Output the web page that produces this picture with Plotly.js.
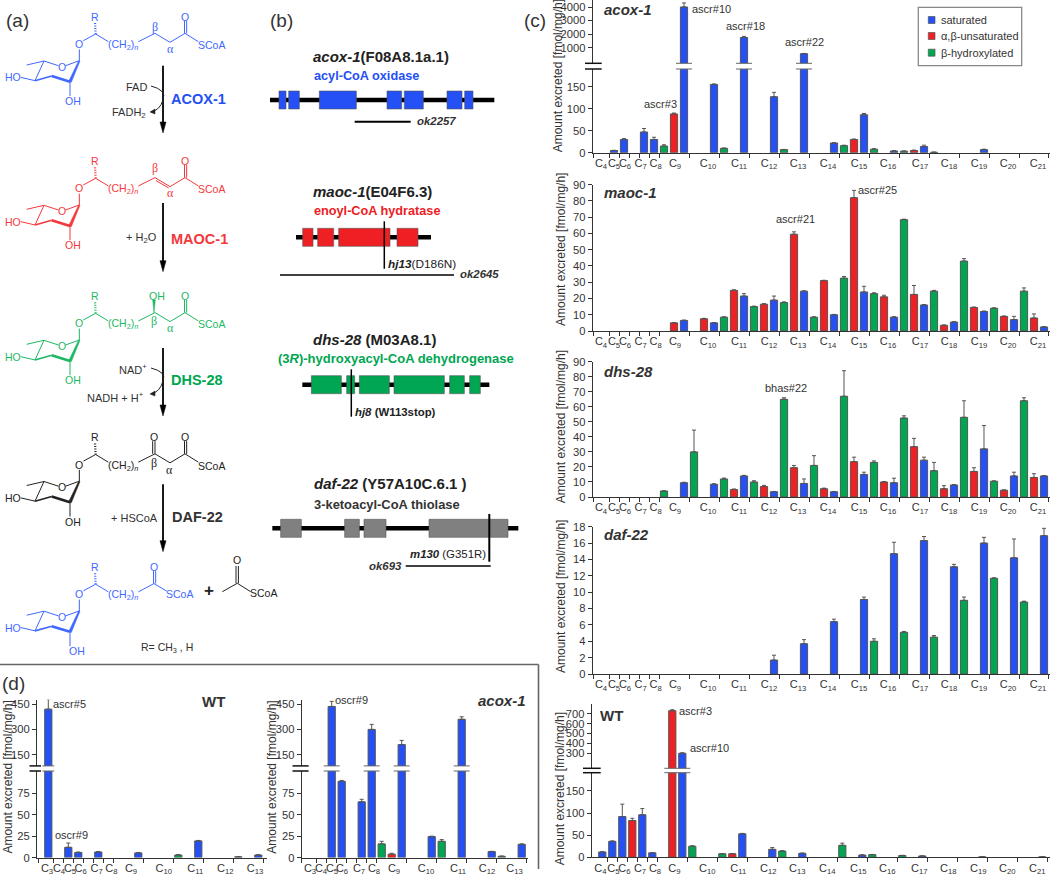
<!DOCTYPE html>
<html><head><meta charset="utf-8">
<script src="https://cdn.plot.ly/plotly-3.0.1.min.js"></script>
<style>html,body{margin:0;padding:0;background:#fff}#chart{width:1050px;height:874px}</style>
</head><body><div id="chart"></div>
<script>
// ---------- DATA. Slot = position along the carbon axis, kind: s saturated, u unsaturated, h hydroxylated
const carbonC = ['C4','C5','C6','C7','C8','C9','C10','C11','C12','C13','C14','C15','C16','C17','C18','C19','C20','C21'];
const carbonD = ['C3','C4','C5','C6','C7','C8','C9','C10','C11','C12','C13'];
const seriesNames = {s:'saturated', u:'α,β-unsaturated', h:'β-hydroxylated'};

const acoxSlots = [2,3,5,6,7,8,9,12,13,15,18,19,21,24,25,26,27,28,30,31,32,33,34,39];
const acoxKinds = ['s','s','s','s','h','u','s','s','h','s','s','h','s','s','h','u','s','h','s','h','u','s','h','s'];
const acoxValues = [5,30,47,30,15,88,4000,155,10,1750,127,7,560,22,16,30,86,8,4,3.5,5,14,1,7];
const acoxErrors = [.5,2,8,5,3,2,300,1,.5,80,10,.5,15,.5,1,1,3,1,.5,.3,1,3,.3,1];

const maocSlots = [8,9,11,12,13,14,15,16,17,18,19,20,21,22,23,24,25,26,27,28,29,30,31,32,33,34,35,36,37,38,39,40,41,42,43,44,45];
const maocKinds = ['u','s','u','s','h','u','s','h','u','s','h','u','s','h','u','s','h','u','s','h','u','s','h','u','s','h','u','s','h','u','s','h','u','s','h','u','s'];
const maocValues = [5,6.5,7.5,5,8.5,25,21.5,15,16.5,19,17.5,59.5,24.5,8.5,31,10,32.5,82,24,23,21,8.5,68.5,22.5,16,24.5,3.5,5.5,43,14.5,12,14,9,7,24.5,8,2.5];
const maocErrors = [.2,.2,.3,.2,.2,.3,1.5,.3,.3,2.5,.4,1.5,.2,.2,.2,.2,1,4.5,3.5,.5,1,.3,.3,5.5,.3,.5,.2,.2,1.5,.2,.3,.2,.2,2,2,2.5,.2];

const dhsSlots = [7,9,10,12,13,14,15,16,17,18,19,20,21,22,23,24,25,26,27,28,29,30,31,32,33,34,35,36,37,38,39,40,41,42,43,44,45];
const dhsKinds = ['h','s','h','s','h','u','s','h','u','s','h','u','s','h','u','s','h','u','s','h','u','s','h','u','s','h','u','s','h','u','s','h','u','s','h','u','s'];
const dhsValues = [4,9.5,30,8.5,12,5,14,10,7,3.5,65,19.5,9,21,5.5,3.5,67,23.5,15,23,10,9.5,52.5,33.5,24.5,17.5,5.5,8,53,17,32,10.5,4.5,14,64,13,14];
const dhsErrors = [.1,.3,14.5,.3,.6,.3,.4,.8,.7,.2,1,1.5,3,6.5,.4,.2,17,3,1.5,1,.3,3,1.5,5.5,2,5.5,2,.3,11,2.5,15.5,.2,.2,2.5,2,2.5,.3];

const dafSlots = [18,21,24,27,28,30,31,33,34,36,37,39,40,42,43,45];
const dafKinds = ['s','s','s','s','h','s','h','s','h','s','h','s','h','s','h','s'];
const dafValues = [1.7,3.7,6.4,9.1,4,14.7,5.1,16.3,4.5,13.1,9,16,11.7,14.2,8.8,16.9];
const dafErrors = [.6,.5,.3,.3,.3,1.4,.1,.5,.2,.3,.4,.7,.05,2.3,.1,.9];

const wtSlots = [1,2,3,4,5,6,8,9,10,13,14,15,18,19,21,25,27,28,31,33,39,45];
const wtKinds = ['s','s','s','u','s','s','u','s','h','h','u','s','s','h','s','h','s','h','h','s','s','s'];
const wtValues = [12,36,92,83,96,10,730,300,25,8,8,53,18,14,9,27,5,6,4,3,1,1];
const wtErrors = [.5,1,28,5,14,.5,10,5,1,.5,.5,1,4,1,.5,5,.5,.5,.5,.3,.2,.2];

const dWtSlots = [0,2,3,5,9,13,15,19,21];
const dWtKinds = ['s','s','s','s','s','h','s','h','s'];
const dWtValues = [420,12,6,6.5,5.5,3,19.5,1,3];
const dWtErrors = [57,5,.5,.5,.5,.5,.5,.2,.3];

const dAcoxSlots = [2,3,5,6,7,8,9,12,13,15,18,19,21];
const dAcoxKinds = ['s','s','s','s','h','u','s','s','h','s','s','h','s'];
const dAcoxValues = [436,89,65,300,16,4,210,24.5,19,360,7,1.5,15.5];
const dAcoxErrors = [30,1,3,30,3,1,25,.5,2,15,.3,.3,.5];

// ---------- layout helpers
const W=1050,H=874, FONT='"Liberation Sans",Arial,sans-serif';
const COL={s:'#2450f5',u:'#ee2024',h:'#00a651'};
const fx=x=>x/W, fy=y=>1-y/H;
const traces=[], shapes=[], annotations=[], layout={};
function T(x,y,text,o={}){annotations.push({xref:'paper',yref:'paper',x:fx(x),y:fy(y),text,showarrow:false,
  xanchor:o.a||'center',yanchor:'middle',textangle:o.rot||0,borderpad:0,
  font:{family:o.family||FONT,size:o.size||11,color:o.color||'#333'}});}
function L(x0,y0,x1,y1,color='#222',width=1,dash){shapes.push({type:'line',xref:'paper',yref:'paper',x0:fx(x0),y0:fy(y0),x1:fx(x1),y1:fy(y1),line:{color,width,dash:dash||'solid'}});}
function R(x0,y0,x1,y1,fill,line='#555',lw=.7){shapes.push({type:'rect',xref:'paper',yref:'paper',x0:fx(x0),y0:fy(y0),x1:fx(x1),y1:fy(y1),fillcolor:fill,line:{color:line,width:lw}});}
function poly(pts,fill){shapes.push({type:'path',xref:'paper',yref:'paper',path:'M'+pts.map(p=>fx(p[0])+' '+fy(p[1])).join('L')+'Z',fillcolor:fill,line:{color:fill,width:.5}});}
function curve(p0,c1,p1,c2,p2,color){shapes.push({type:'path',xref:'paper',yref:'paper',line:{color,width:1},
  path:`M${fx(p0[0])} ${fy(p0[1])}Q${fx(c1[0])} ${fy(c1[1])} ${fx(p1[0])} ${fy(p1[1])}Q${fx(c2[0])} ${fy(c2[1])} ${fx(p2[0])} ${fy(p2[1])}`});}

let axisNo=1;
function panel(p){
  const xn=axisNo===1?'':axisNo, xId='x'+xn; const xKey='xaxis'+xn;
  const k0=p.k0, span=10;
  const lowN=axisNo===1?'':axisNo, lowId='y'+lowN, lowKey='yaxis'+lowN;
  const common={showgrid:false,zeroline:false,showline:true,linecolor:'#333',linewidth:1,tickcolor:'#333',tickwidth:1,
    tickfont:{family:FONT,size:11.2,color:'#333'},ticks:'outside',ticklen:4,fixedrange:true,tickangle:0};
  layout[xKey]={domain:[fx(p.left),fx(p.right)],range:[(p.left-k0)/span,(p.right-k0)/span],anchor:lowId,tickangle:0,
    showgrid:false,zeroline:false,showline:true,linecolor:'#333',linewidth:1,ticks:'',tickmode:'array',
    tickvals:p.labelPos,ticktext:p.labels.map(c=>c[0]+'<sub>'+c.slice(1)+'</sub>'),
    tickfont:{family:FONT,size:11,color:'#333'},ticklabelstandoff:0,fixedrange:true,
    minor:{ticks:'outside',ticklen:4,tickwidth:1,tickcolor:'#333',tickmode:'array',tickvals:p.tickPos,showgrid:false}};
  const lo=p.lower;
  layout[lowKey]=Object.assign({},common,{domain:[fy(lo.zero),fy(lo.top)],range:[0,lo.max],anchor:xId,tickmode:'array',tickvals:lo.ticks});
  let upId=null;
  if(p.upper){axisNo++;const u=p.upper;upId='y'+axisNo;
    layout['yaxis'+axisNo]=Object.assign({},common,{domain:[fy(u.bottom),fy(u.top)],range:[u.min,u.max],anchor:xId,tickmode:'array',tickvals:u.ticks});}
  ['s','u','h'].forEach(kind=>{
    const idx=p.kinds.map((k,i)=>k===kind?i:-1).filter(i=>i>=0);
    if(!idx.length)return;
    const style={type:'bar',width:.72,name:seriesNames[kind],showlegend:false,hoverinfo:'skip',
      marker:{color:COL[kind],line:{color:'#555',width:1}}};
    const eb=a=>({type:'data',array:a,symmetric:false,arrayminus:a.map(()=>0),color:'#555',thickness:1,width:2});
    traces.push(Object.assign({},style,{x:idx.map(i=>p.slots[i]),y:idx.map(i=>p.values[i]),xaxis:xId,yaxis:lowId,
      error_y:eb(idx.map(i=>p.errors[i]))}));
    if(p.upper){
      const hi=idx.filter(i=>p.values[i]>lo.max);
      if(hi.length){const base=p.upper.min-200;
        traces.push(Object.assign({},style,{x:hi.map(i=>p.slots[i]),y:hi.map(i=>p.values[i]-base),base,xaxis:xId,yaxis:upId,
          error_y:eb(hi.map(i=>p.errors[i]))}));}
    }
  });
  if(p.upper){
    const yA=p.upper.bottom,yB=lo.top;
    [yA,yB].forEach(y=>{
      L(p.brk[0],y,p.brk[1],y,'#111',1.5);
      (p.barBreaks||[]).forEach(b=>{
        const x0=k0+b[0]*span,x1=k0+b[1]*span; L(x0,y,x1,y,'#666',1);
      });
    });
  }
  T(p.titleX,p.titleY,'Amount excreted [fmol/mg/h]',{rot:-90,size:p.titleSize||12});
  axisNo++;
}
const cTicks=[-0.1,1.5,2.5,3.5,4.5,5.5,6.5,9.5,12.5,15.5,18.5,21.5,24.5,27.5,30.5,33.5,36.5,39.5,42.5,45.49];
const cLabels=[0.7,2,3.1,4.67,6.17,8.1,11.4,14.5,17.5,20.4,23.4,26.5,29.4,32.6,35.5,38.5,41.4,44.4];
const dTicks=[-1,.5,1.5,2.5,3.5,4.5,5.5,6.5,9.5,12.5,15.5,18.5,21.5];
const dLabelsWt=[-0.13,1.07,2.17,3.24,4.83,6.3,8.27,11.55,14.7,17.7,20.67];
const dLabelsAcox=[-0.17,.93,2.03,3.03,4.73,6.23,8.23,11.43,14.63,17.53,20.28];

panel({slots:acoxSlots,kinds:acoxKinds,values:acoxValues,errors:acoxErrors,k0:594,left:592.6,right:1050,labels:carbonC,labelPos:cLabels,tickPos:cTicks,
  lower:{zero:152.7,top:69,max:190,ticks:[0,50,100,150]},upper:{bottom:63.3,top:0,min:-151,max:4516,ticks:[1000,2000,3000,4000]},
  brk:[585,601.7],barBreaks:[[8.2,9.8],[14.2,15.8],[20.2,21.8]],titleX:558.3,titleY:76});
panel({slots:maocSlots,kinds:maocKinds,values:maocValues,errors:maocErrors,k0:594,left:592.6,right:1050,labels:carbonC,labelPos:cLabels,tickPos:cTicks,
  lower:{zero:331,top:184.7,max:90,ticks:[0,10,20,30,40,50,60,70,80,90]},titleX:561,titleY:250});
panel({slots:dhsSlots,kinds:dhsKinds,values:dhsValues,errors:dhsErrors,k0:594,left:592.6,right:1050,labels:carbonC,labelPos:cLabels,tickPos:cTicks,
  lower:{zero:497,top:361.7,max:90,ticks:[0,10,20,30,40,50,60,70,80,90]},titleX:561,titleY:427.3});
panel({slots:dafSlots,kinds:dafKinds,values:dafValues,errors:dafErrors,k0:594,left:592.6,right:1050,labels:carbonC,labelPos:cLabels,tickPos:cTicks,
  lower:{zero:674,top:526.7,max:18,ticks:[0,2,4,6,8,10,12,14,16,18]},titleX:561,titleY:597});
panel({slots:wtSlots,kinds:wtKinds,values:wtValues,errors:wtErrors,k0:592.3,left:591.6,right:1050,labels:carbonC,labelPos:cLabels.map(k=>k+.1),tickPos:cTicks,
  lower:{zero:857.3,top:772.7,max:191,ticks:[0,50,100,150]},upper:{bottom:768.3,top:704,min:148,max:798,ticks:[300,400,500,600,700]},
  brk:[583,600.7],barBreaks:[[7.2,9.8]],titleX:560,titleY:789.3});
panel({slots:dWtSlots,kinds:dWtKinds,values:dWtValues,errors:dWtErrors,k0:48.3,left:37,right:267,labels:carbonD,labelPos:dLabelsWt,tickPos:dTicks,
  lower:{zero:857.6,top:771,max:101,ticks:[0,25,50,75]},upper:{bottom:765.9,top:699.7,min:84,max:476,ticks:[150,300,450]},
  brk:[29.5,41],barBreaks:[[-.6,.6]],titleX:7.6,titleY:777});
panel({slots:dAcoxSlots,kinds:dAcoxKinds,values:dAcoxValues,errors:dAcoxErrors,k0:311.7,left:301.7,right:527.6,labels:carbonD,labelPos:dLabelsAcox,tickPos:dTicks,
  lower:{zero:857.6,top:771,max:101,ticks:[0,25,50,75]},upper:{bottom:765.9,top:699.7,min:84,max:476,ticks:[150,300,450]},
  brk:[292.5,308.6],barBreaks:[[1.2,2.8],[5.2,6.8],[8.2,9.8],[14.2,15.8]],titleX:271.7,titleY:777});

// ---------- chart labels
const BI=t=>'<b><i>'+t+'</i></b>';
T(602.7,9.3,BI('acox-1'),{a:'left',size:15});
T(711.3,9,'ascr#10');T(745,25.7,'ascr#18');T(804.3,41.7,'ascr#22');T(660.7,103.7,'ascr#3');
T(602.7,192.7,BI('maoc-1'),{a:'left',size:15});T(795,219,'ascr#21');T(877.7,190,'ascr#25');
T(602.7,371,BI('dhs-28'),{a:'left',size:15});T(785.7,388.3,'bhas#22');
T(602.7,534.3,BI('daf-22'),{a:'left',size:15});
T(599.3,715,'<b>WT</b>',{a:'left',size:15});T(695.7,710.7,'ascr#3');T(709,748,'ascr#10');
T(213,701.4,'<b>WT</b>',{size:15});T(69,703.8,'ascr#5');T(71.4,835,'oscr#9');
T(502.4,700.3,BI('acox-1'),{size:15});T(351.7,700,'oscr#9');
// legend box
R(918.3,7.3,1021.7,65.7,'#fff','#888',1.3);
[['s',20],['u',36],['h',52.7]].forEach(([k,y])=>{R(928.3,y-3.5,935,y+3.5,COL[k],'#555',.7);T(940,y,seriesNames[k],{a:'left',size:11});});
// panel letters, frame of (d)
T(5,20,'(a)',{a:'left',size:19});T(269,20,'(b)',{a:'left',size:19});T(523,20,'(c)',{a:'left',size:19});T(1,683,'(d)',{a:'left',size:19});
L(0,664.5,538.5,664.5,'#666',1.6);L(538.5,664.5,538.5,869,'#666',1.6);

// ---------- (b) gene models
function gene(zx0,y0,line,exons,color){const z=x=>260+x/3;
  L(z(line[0]),y0,z(line[1]),y0,'#000',4.5);
  exons.forEach(e=>R(z(e[0]),y0-9,z(e[1]),y0+9,color,'#555',.6));}
const zb=x=>260+x/3;
T(312.3,56.7,'<b><i>acox-1</i>(F08A8.1a.1)</b>',{a:'left',size:15,color:'#222'});
T(312.5,76,'<b>acyl-CoA oxidase</b>',{a:'left',size:12.7,color:'#2450f5'});
gene(0,100,[30,703],[[57,78],[86,118],[178,289],[381,425],[433,490],[561,606],[614,639]],COL.s);
L(zb(284),121.7,zb(452),121.7,'#000',2);T(415.7,121.3,BI('ok2257'),{a:'left',size:11.4});

T(311.7,191,'<b><i>maoc-1</i>(E04F6.3)</b>',{a:'left',size:15,color:'#222'});
T(312.5,211,'<b>enoyl-CoA hydratase</b>',{a:'left',size:12.7,color:COL.u});
gene(0,237.3,[108,513],[[128,159],[173,221],[236,390],[411,474]],COL.u);
L(384.3,221.3,384.3,268.7,'#000',1.5);
T(387.3,264.3,'<b><i>hj13</i></b>(D186N)',{a:'left',size:11.8,color:'#222'});
L(280,275,454,275,'#000',1.5);T(458.7,274,BI('ok2645'),{a:'left',size:11.4});

T(311.7,339,'<b><i>dhs-28</i> (M03A8.1)</b>',{a:'left',size:15,color:'#222'});
T(277.3,358,'<b>(3<i>R</i>)-hydroxyacyl-CoA dehydrogenase</b>',{a:'left',size:13,color:COL.h});
gene(0,384.7,[127,688],[[154,244],[260,284],[298,388],[402,553],[569,613],[629,661]],COL.h);
L(351.3,369.3,351.3,416.7,'#000',1.5);
T(353.7,412.3,'<b><i>hj8</i> (W113stop)</b>',{a:'left',size:11.4,color:'#222'});

T(312.7,483.3,'<b><i>daf-22</i> (Y57A10C.6.1 )</b>',{a:'left',size:15,color:'#222'});
T(313.3,504.3,'<b>3-ketoacyl-CoA thiolase</b>',{a:'left',size:12.9,color:'#333'});
gene(0,528.3,[37,775],[[62,124],[254,298],[312,378],[507,744]],'#808080');
L(489.3,514,489.3,561.7,'#000',2);
T(486.7,554.3,'<b><i>m130</i></b> (G351R)',{a:'right',size:11.4,color:'#222'});
L(405.7,566,490.7,566,'#000',1.5);T(403.3,565.5,BI('ok693'),{a:'right',size:11.4});

// ---------- (a) pathway
function mol(dy,color,v){
  const m=(x,y)=>[x/3,y/3+dy];
  const seg=(a,b,c,d,w=1)=>{const p=m(a,b),q=m(c,d);L(p[0],p[1],q[0],q[1],color,w);};
  const atom=(x,y,t,o={})=>{const p=m(x,y);T(p[0],p[1],t,Object.assign({color,size:10.5},o));};
  seg(132,183,175,197);seg(238,182,197,197);seg(105,242,132,183);seg(132,183,80,195);
  seg(105,242,62,232);seg(210,245,210,288);seg(238,182,238,148);seg(250,122,287,102);
  seg(287,102,325,125);seg(155,228,105,242,1.6);seg(155,228,210,245,2.6);
  poly([m(236,182),m(240,183),m(214,247),m(206,244)],color);
  const hp=m(287,102),hq=m(285,66);L(hp[0],hp[1],hq[0],hq[1],color,2.2,'1px,1.5px');
  atom(185,200,'O');atom(38,232,'HO');atom(v==='end'?232:218,303,'OH');atom(238,132,'O');atom(285,50,'R');
  atom(368,135,'(CH<sub>2</sub>)<sub><i>n</i></sub>');
  const co=(x,y)=>{seg(x-1.5,y,x-1.5,62);seg(x+5,y,x+5,62);atom(x+1,50,'O');};
  if(v==='end'){seg(415,125,462,100);co(462,100);seg(462,100,500,123);atom(537,130,'SCoA');return;}
  seg(415,125,465,100);seg(465,100,510,127);seg(510,127,555,100);seg(555,100,595,125);co(555,100);atom(633,135,'SCoA');
  const g=(x,y,t)=>atom(x,y,t,{family:'"Liberation Serif",serif',size:12});
  if(v==='sat'){g(465,80,'β');g(510,147,'α');}
  if(v==='ene'){seg(468,109,506,131);g(465,72,'β');g(510,147,'α');}
  if(v==='oh'){poly([m(462,100),m(458,62),m(466,62)],color);atom(472,50,'OH');g(462,124,'β');g(510,147,'α');}
  if(v==='keto'){seg(458,100,458,62);seg(465,100,465,62);atom(462,50,'O');g(462,127,'β');g(507,148,'α');}
}
mol(0,'#3f68ff','sat');mol(144.3,'#f4383c','ene');mol(279.3,'#1cb863','oh');mol(420.5,'#222','keto');mol(550.2,'#3f68ff','end');
function arrow(x,y0,y1){L(x,y0,x,y1-8,'#000',1.8);poly([[x-3,y1-11],[x+3,y1-11],[x,y1]],'#000');}
arrow(163,65.7,133);arrow(163,203,271.7);arrow(163,348,416);arrow(163,484.3,551.7);
T(198,99,'<b>ACOX-1</b>',{size:14.5,color:'#2450f5'});T(199,239,'<b>MAOC-1</b>',{size:14.5,color:'#f4383c'});
T(197,380,'<b>DHS-28</b>',{size:14.5,color:'#00a651'});T(197,517,'<b>DAF-22</b>',{size:14.5,color:'#333'});
T(136,87,'FAD');T(129,113,'FADH<sub>2</sub>');T(141,238,'+ H<sub>2</sub>O');
T(133,369,'NAD<sup>+</sup>');T(115,397,'NADH + H<sup>+</sup>');T(134,517.7,'+ HSCoA');
curve([151,86],[167,90],[163,100],[160,110],[151,112],'#222');poly([[150,112],[155,109],[155,114]],'#222');
curve([151,368],[167,372],[163,381],[160,392],[151,394],'#222');poly([[150,394],[155,391],[155,396]],'#222');
T(209,590.5,'<b>+</b>',{size:17,color:'#222'});
L(222.3,591.7,237.3,583.3,'#222',1);L(236,583.3,236,566,'#222',1);L(238.4,583.3,238.4,566,'#222',1);L(237.3,583.3,250.7,591.7,'#222',1);
T(237.3,560,'O',{size:10.5,color:'#222'});T(263.3,593.3,'SCoA',{size:10.5,color:'#222'});
T(167,648,'R= CH<sub>3</sub> , H',{size:10.5,color:'#333'});

Object.assign(layout,{width:W,height:H,autosize:false,margin:{l:0,r:0,t:0,b:0,pad:0},paper_bgcolor:'#fff',plot_bgcolor:'rgba(0,0,0,0)',
  showlegend:false,barmode:'overlay',font:{family:FONT,color:'#333'},shapes,annotations});
Plotly.newPlot('chart',traces,layout,{displayModeBar:false,staticPlot:true});
</script></body></html>
